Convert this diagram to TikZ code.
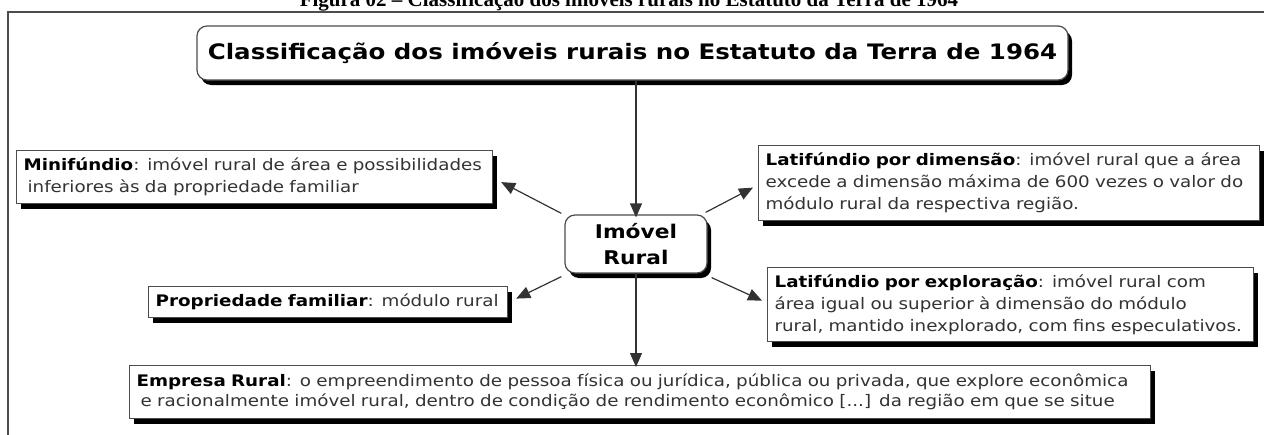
\documentclass[tikz,border=0pt]{standalone}
\usepackage{fontspec}
\usepackage{graphicx}
\setmainfont{DejaVu Sans}[FakeStretch=1.15]
\newfontfamily\capfont{Liberation Serif}
\usetikzlibrary{arrows.meta,shadows}
\definecolor{ink}{HTML}{333333}
\begin{document}
\begin{tikzpicture}[x=1pt,y=-1pt,
  shad/.style={drop shadow={shadow xshift=4pt,shadow yshift=-5pt,fill=black,opacity=1}},
  defbox/.style={draw=black!70,line width=1.2pt,fill=white,anchor=north west,
    inner xsep=7pt,inner ysep=0pt,align=left,text=ink,
    font=\fontsize{15.9}{22}\selectfont,shad},
  roundbox/.style={draw=black!70,line width=1.2pt,fill=white,rounded corners=10pt,
    align=center,text=black,shad},
  arr/.style={draw=ink,line width=1.2pt,-{Triangle[length=14pt,width=12pt]}},
  frame/.style={draw=black!70,line width=1.6pt}]
\useasboundingbox (0,0) rectangle (1264,434);
% caption (partly cut off by the page edge, as in the reference)
\node[font=\capfont\bfseries\fontsize{21}{22}\selectfont,anchor=base,inner sep=0pt] (cap) at (629,6)
  {Figura 02 – Classificação dos imóveis rurais no Estatuto da Terra de 1964};
% frame
\draw[frame] (8,440) -- (8,12) -- (1275,12);
% title
\node[roundbox,minimum width=871pt,minimum height=54pt,
  font=\bfseries\fontsize{21.3}{24}\selectfont] (title) at (632.5,53)
  {Classificação dos imóveis rurais no Estatuto da Terra de 1964};
% centre
\node[roundbox,minimum width=142pt,minimum height=58pt,
  font=\bfseries\fontsize{18.9}{26}\selectfont] (imovel) at (636,244)
  {Imóvel\\Rural};
% definitions
\node[defbox,text width=462pt,minimum height=53pt] (mini) at (16,150)
  {\textbf{\color{black}Minifúndio}: imóvel rural de área e possibilidades\\
   \hspace*{4pt}inferiores às da propriedade familiar};
\node[defbox,text width=487pt,minimum height=75pt] (latdim) at (758,145)
  {\textbf{\color{black}Latifúndio por dimensão}: imóvel rural que a área\\
   excede a dimensão máxima de 600 vezes o valor do\\
   módulo rural da respectiva região.};
\node[defbox,text width=345pt,minimum height=31pt] (prop) at (148,286)
  {\resizebox{343pt}{\height}{\textbf{\color{black}Propriedade familiar}: módulo rural}};
\node[defbox,text width=472pt,minimum height=74pt] (latexp) at (767,267)
  {\textbf{\color{black}Latifúndio por exploração}: imóvel rural com\\
   área igual ou superior à dimensão do módulo\\
   rural, mantido inexplorado, com fins especulativos.};
\node[defbox,text width=1007pt,minimum height=53pt,font=\fontsize{15.9}{20}\selectfont] (emp) at (129,365)
  {\textbf{\color{black}Empresa Rural}: o empreendimento de pessoa física ou jurídica, pública ou privada, que explore econômica\\
   \hspace*{4pt}e racionalmente imóvel rural, dentro de condição de rendimento econômico [...] da região em que se situe};
% connectors
\draw[arr] (title.south -| imovel.north) -- ([yshift=-3pt]imovel.north);
\draw[arr] ([shift={(-3,-1)}]imovel.north west) -- ([shift={(8,5)}]mini.east);
\draw[arr] ([shift={(-2,-2)}]imovel.north east) -- ([shift={(-5,4.5)}]latdim.west);
\draw[arr] ([shift={(-3,3)}]imovel.south west) -- ([shift={(8,-3.5)}]prop.east);
\draw[arr] ([shift={(4,4)}]imovel.south east) -- ([shift={(-5,-4)}]latexp.west);
\draw[arr] ([yshift=1pt]imovel.south) -- ([yshift=-2pt]emp.north -| imovel.south);
\end{tikzpicture}
\end{document}
